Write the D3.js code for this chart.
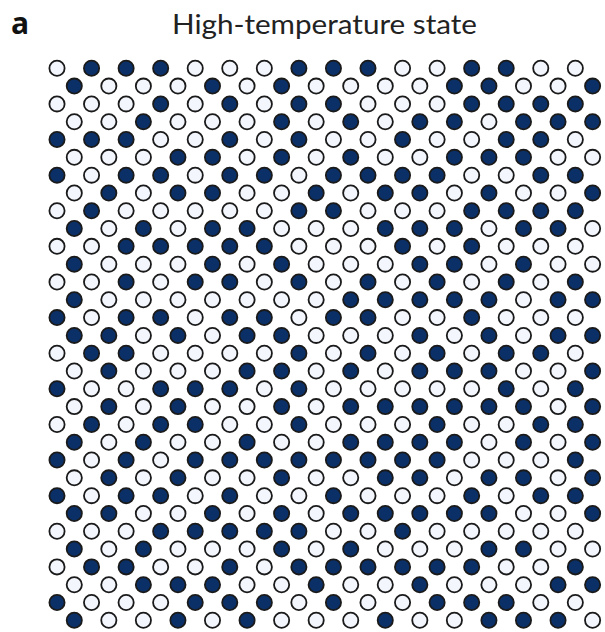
<!DOCTYPE html>
<html><head><meta charset="utf-8">
<script src="https://cdn.jsdelivr.net/npm/d3@7"></script>
<style>html,body{margin:0;padding:0;background:#fff;}</style>
</head><body>
<script>
const panelLabel = "a";
const title = "High-temperature state";
// 1 = dark (filled) site, 0 = light site; even rows start left, odd rows shifted by half a step
const rowStates = [
"0111000111001100",
"1000101000011001",
"0001010110001111",
"0010001010110111",
"1110010100100110",
"0001101010011100",
"1011011011110011",
"0101100101101001",
"0100000110001111",
"1010110001110110",
"0011111000101000",
"1000101000110100",
"0010110101010101",
"1000000011111011",
"1011011011001000",
"1101011000101011",
"0110000101010110",
"0100011010111001",
"1001110100000101",
"0101001011111101",
"0101100100010011",
"1010010011110101",
"1010111111110001",
"0101001001101101",
"1011010010001011",
"1100101011111001",
"0001111100100000",
"1010001010001100",
"0110010111111001",
"0011100100100011",
"1000111010011100",
"1001010001001110"
];
const stateColors = ["#f3f7fd", "#0b3068"];

const W = 605, H = 632;
const svg = d3.select("body").append("svg").attr("width", W).attr("height", H);

const nRows = rowStates.length;
const nCols = rowStates[0].length;
const x = d3.scaleLinear().domain([0, 2 * nCols - 1]).range([57, 592.6]);
const y = d3.scaleLinear().domain([0, nRows - 1]).range([68.3, 620.3]);

const cells = [];
rowStates.forEach((s, r) => {
  s.split("").forEach((v, c) => cells.push({r, c, v: +v}));
});

svg.append("g").selectAll("circle").data(cells).join("circle")
  .attr("cx", d => x(2 * d.c + (d.r % 2)))
  .attr("cy", d => y(d.r))
  .attr("r", 7.6)
  .attr("fill", d => stateColors[d.v])
  .attr("stroke", "#1a1a1a")
  .attr("stroke-width", 1.8);

svg.append("text").attr("x", 11).attr("y", 33.5)
  .attr("font-family", "'Open Sans', sans-serif").attr("font-weight", 700)
  .attr("font-size", 30).attr("fill", "#111").text(panelLabel);

svg.append("text").attr("x", 324.5).attr("y", 33.5)
  .attr("text-anchor", "middle")
  .attr("font-family", "Lato, 'Open Sans', sans-serif").attr("font-weight", 400)
  .attr("font-size", 26).attr("fill", "#222")
  .attr("textLength", 305).attr("lengthAdjust", "spacingAndGlyphs")
  .text(title);
</script>
</body></html>
